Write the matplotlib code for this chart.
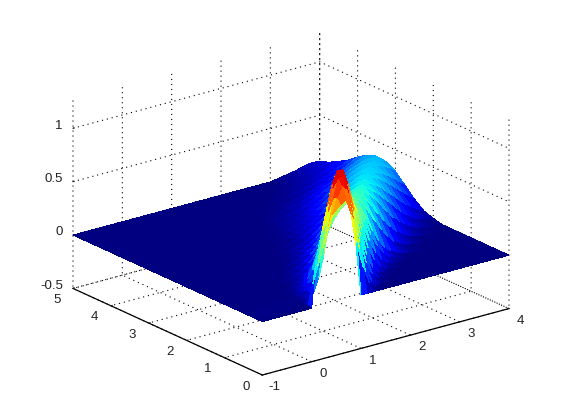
import matplotlib
matplotlib.use("Agg")
import matplotlib.pyplot as plt
import numpy as np
from matplotlib.transforms import ScaledTranslation
from mpl_toolkits.mplot3d import proj3d

plt.rcParams['font.family'] = ['Liberation Sans', 'DejaVu Sans']
plt.rcParams['axes.unicode_minus'] = False

x_values = [-1, 0, .1, .2, .3, .4, .5, .6, .7, .8, .9,
            1, 1.125, 1.25, 1.375, 1.5, 1.625, 1.75, 1.875, 2, 2.125, 2.25, 2.375, 2.5,
            2.625, 2.75, 2.875, 3, 3.125, 3.25, 3.375, 3.5, 3.625, 3.75, 3.875, 4]
y_values = [0, .1, .2, .35, .5, .625, .75, .875, 1, 1.25, 1.5, 1.75, 2, 2.25, 2.5, 2.75,
            3, 3.25, 3.5, 3.75, 4, 4.25, 4.5, 4.75, 5]
z_rows = [
 [0, 0, .47, .66, .74, .81, .86, .90, .93, .78, .47, 0, 0, 0, 0, 0, 0, 0, 0, 0, 0, 0, 0, 0, 0, 0, 0, 0, 0, 0, 0, 0, 0, 0, 0, 0],
 [0, .01, .20, .35, .50, .65, .80, .95, 1.05, 1.00, .78, .45, .22, .07, .02, 0, 0, 0, 0, 0, 0, 0, 0, 0, 0, 0, 0, 0, 0, 0, 0, 0, 0, 0, 0, 0],
 [0, .01, .03, .10, .22, .42, .68, .93, 1.10, 1.10, .94, .68, .38, .15, .05, .01, 0, 0, 0, 0, 0, 0, 0, 0, 0, 0, 0, 0, 0, 0, 0, 0, 0, 0, 0, 0],
 [0, .01, .03, .08, .17, .32, .53, .77, .99, 1.13, 1.13, .99, .71, .41, .20, .08, .03, .01, 0, 0, 0, 0, 0, 0, 0, 0, 0, 0, 0, 0, 0, 0, 0, 0, 0, 0],
 [0, .01, .02, .06, .12, .23, .38, .58, .79, .98, 1.09, 1.09, .94, .69, .43, .23, .10, .04, .01, 0, 0, 0, 0, 0, 0, 0, 0, 0, 0, 0, 0, 0, 0, 0, 0, 0],
 [0, 0, .01, .03, .07, .13, .22, .35, .51, .68, .83, .92, .94, .84, .65, .44, .26, .14, .06, .02, .01, 0, 0, 0, 0, 0, 0, 0, 0, 0, 0, 0, 0, 0, 0, 0],
 [0, 0, .01, .02, .04, .07, .12, .20, .30, .42, .55, .67, .77, .80, .73, .60, .44, .29, .17, .09, .04, .02, .01, 0, 0, 0, 0, 0, 0, 0, 0, 0, 0, 0, 0, 0],
 [0, 0, 0, .01, .02, .04, .07, .12, .18, .27, .37, .48, .60, .69, .72, .68, .58, .45, .31, .20, .12, .06, .03, .01, 0, 0, 0, 0, 0, 0, 0, 0, 0, 0, 0, 0],
 [0, 0, 0, 0, .01, .02, .04, .07, .11, .16, .23, .32, .44, .54, .62, .65, .62, .54, .44, .32, .21, .13, .08, .04, .02, .01, 0, 0, 0, 0, 0, 0, 0, 0, 0, 0],
 [0, 0, 0, 0, 0, .01, .02, .03, .05, .07, .11, .16, .24, .33, .43, .52, .58, .60, .58, .52, .43, .33, .24, .16, .10, .06, .03, .02, .01, 0, 0, 0, 0, 0, 0, 0],
 [0, 0, 0, 0, 0, 0, 0, .01, .02, .03, .05, .07, .12, .18, .25, .33, .41, .48, .53, .55, .53, .48, .41, .33, .25, .18, .12, .07, .04, .02, .01, .01, 0, 0, 0, 0],
 [0, 0, 0, 0, 0, 0, 0, 0, 0, .01, .02, .03, .05, .09, .13, .19, .26, .33, .40, .46, .50, .51, .50, .46, .40, .33, .26, .19, .13, .09, .05, .03, .02, .01, 0, 0],
 [0, 0, 0, 0, 0, 0, 0, 0, 0, 0, 0, .01, .02, .04, .06, .10, .14, .20, .26, .32, .38, .43, .47, .48, .47, .43, .38, .32, .26, .20, .14, .10, .06, .04, .02, .02],
 [0, 0, 0, 0, 0, 0, 0, 0, 0, 0, 0, 0, .01, .02, .03, .05, .07, .11, .15, .20, .26, .31, .37, .41, .44, .45, .44, .41, .37, .31, .26, .20, .15, .11, .07, .05],
 [0, 0, 0, 0, 0, 0, 0, 0, 0, 0, 0, 0, 0, .01, .01, .02, .04, .06, .09, .12, .16, .21, .26, .31, .36, .40, .42, .43, .42, .40, .36, .31, .26, .21, .16, .12],
 [0, 0, 0, 0, 0, 0, 0, 0, 0, 0, 0, 0, 0, 0, .01, .01, .02, .04, .06, .08, .11, .14, .19, .23, .28, .32, .36, .39, .41, .41, .40, .38, .34, .30, .25, .21],
 [0, 0, 0, 0, 0, 0, 0, 0, 0, 0, 0, 0, 0, 0, 0, .01, .01, .02, .04, .05, .07, .10, .13, .17, .21, .25, .29, .33, .36, .38, .40, .40, .39, .37, .34, .30],
 [0, 0, 0, 0, 0, 0, 0, 0, 0, 0, 0, 0, 0, 0, 0, 0, 0, .01, .02, .03, .04, .06, .08, .11, .14, .17, .21, .25, .28, .32, .35, .37, .38, .38, .37, .35],
 [0, 0, 0, 0, 0, 0, 0, 0, 0, 0, 0, 0, 0, 0, 0, 0, 0, .01, .01, .02, .03, .04, .05, .07, .09, .12, .15, .18, .21, .25, .28, .31, .33, .35, .36, .36],
 [0, 0, 0, 0, 0, 0, 0, 0, 0, 0, 0, 0, 0, 0, 0, 0, 0, 0, 0, .01, .01, .02, .03, .04, .05, .07, .09, .11, .14, .16, .20, .23, .26, .29, .31, .33],
 [0, 0, 0, 0, 0, 0, 0, 0, 0, 0, 0, 0, 0, 0, 0, 0, 0, 0, 0, 0, 0, .01, .01, .02, .02, .03, .04, .06, .08, .10, .12, .15, .18, .21, .24, .27],
 [0, 0, 0, 0, 0, 0, 0, 0, 0, 0, 0, 0, 0, 0, 0, 0, 0, 0, 0, 0, 0, 0, 0, .01, .01, .02, .03, .04, .05, .06, .08, .10, .12, .15, .17, .20],
 [0, 0, 0, 0, 0, 0, 0, 0, 0, 0, 0, 0, 0, 0, 0, 0, 0, 0, 0, 0, 0, 0, 0, 0, 0, .01, .01, .02, .03, .04, .05, .06, .08, .10, .12, .15],
 [0, 0, 0, 0, 0, 0, 0, 0, 0, 0, 0, 0, 0, 0, 0, 0, 0, 0, 0, 0, 0, 0, 0, 0, 0, 0, 0, .01, .02, .03, .04, .05, .07, .08, .09, .10],
 [0, 0, 0, 0, 0, 0, 0, 0, 0, 0, 0, 0, 0, 0, 0, 0, 0, 0, 0, 0, 0, 0, 0, 0, 0, 0, 0, 0, .01, .02, .03, .04, .055, .07, .075, .07],
]
x_ticks = [-1, 0, 1, 2, 3, 4]
y_ticks = [0, 1, 2, 3, 4, 5]
z_ticks = [-0.5, 0, 0.5, 1]
z_tick_labels = ['-0.5', '0', '0.5', '1']

W, H = 561, 420
fig = plt.figure(figsize=(W / 100, H / 100), dpi=100, facecolor='white')
ax = fig.add_axes([0.1, 0.1, 0.8, 0.8], projection='3d', proj_type='ortho')
ax.view_init(elev=30, azim=-127.5)
ax.set_box_aspect((1, 1, 1))
ax.set_xlim(-1, 4, view_margin=0)
ax.set_ylim(0, 5, view_margin=0)
ax.set_zlim(-0.5, 1.27, view_margin=0)
ax.patch.set_visible(False)

X, Y = np.meshgrid(x_values, y_values)
Z = np.array(z_rows)
cmap = plt.get_cmap('jet')
mid = (Z[:-1, :-1] + Z[1:, :-1] + Z[:-1, 1:] + Z[1:, 1:]) / 4
colors = cmap(np.clip(mid / 1.18, 0, 1))
ax.plot_surface(X, Y, Z, facecolors=colors, rstride=1, cstride=1, shade=False,
                antialiased=False, linewidth=0)

ax.set_xticks(x_ticks)
ax.set_yticks(y_ticks)
ax.set_zticks(z_ticks)
ax.set_zticklabels(z_tick_labels)
for a in (ax.xaxis, ax.yaxis, ax.zaxis):
    a.set_pane_color((1, 1, 1, 0))
    a.pane.set_edgecolor((1, 1, 1, 0))
    a._axinfo['grid'].update(color='k', linestyle=(0, (1, 3.5)), linewidth=0.8)
    a._axinfo['tick'].update(inward_factor=0, outward_factor=0.07, linewidth={True: .7, False: .7})
    a.set_tick_params(labelsize=9.5, colors='#222222', pad=-3)
    a.line.set_color('k')
    a.line.set_linewidth(0.9)
ax.zaxis.line.set_visible(False)
ax.zaxis.set_ticks_position('upper')
for label in ax.zaxis.get_ticklabels():
    label.set_ha('right')


def nudge(axis, dx, dy):
    """Shift tick labels by a few pixels when they are drawn."""
    offset = ScaledTranslation(dx * 0.72 / 72, dy * 0.72 / 72, fig.dpi_scale_trans)
    for tick in axis.get_major_ticks():
        label = tick.label1
        def draw(renderer, label=label, orig=label.draw):
            base = label.get_transform()
            label.set_transform(base + offset)
            orig(renderer)
            label.set_transform(base)
        label.draw = draw


nudge(ax.xaxis, 6, 2)
nudge(ax.yaxis, -9, 2)
nudge(ax.zaxis, 3, 8)

# stretch the cube to fill the box, as the reference does
ax.apply_aspect = lambda position=None: ax._set_position(ax.get_position(original=True), 'active')
M = ax.get_proj()
px = lambda p: proj3d.proj_transform(*p, M)
xl, _, _ = px((-1, 5, -0.5))
xr, _, _ = px((4, 0, -0.5))
_, yb, _ = px((-1, 0, -0.5))
_, yt, _ = px((4, 5, 1.27))
vx0, vx1 = ax.viewLim.intervalx
vy0, vy1 = ax.viewLim.intervaly
sx = (509 - 73) / (xr - xl)
sy = (375 - 33) / (yt - yb)
left = 73 + (vx0 - xl) * sx
width = (vx1 - vx0) * sx
bottom = (H - 375) + (vy0 - yb) * sy
height = (vy1 - vy0) * sy
ax.set_position([left / W, bottom / H, width / W, height / H])

fig.savefig('out.png', dpi=100)
